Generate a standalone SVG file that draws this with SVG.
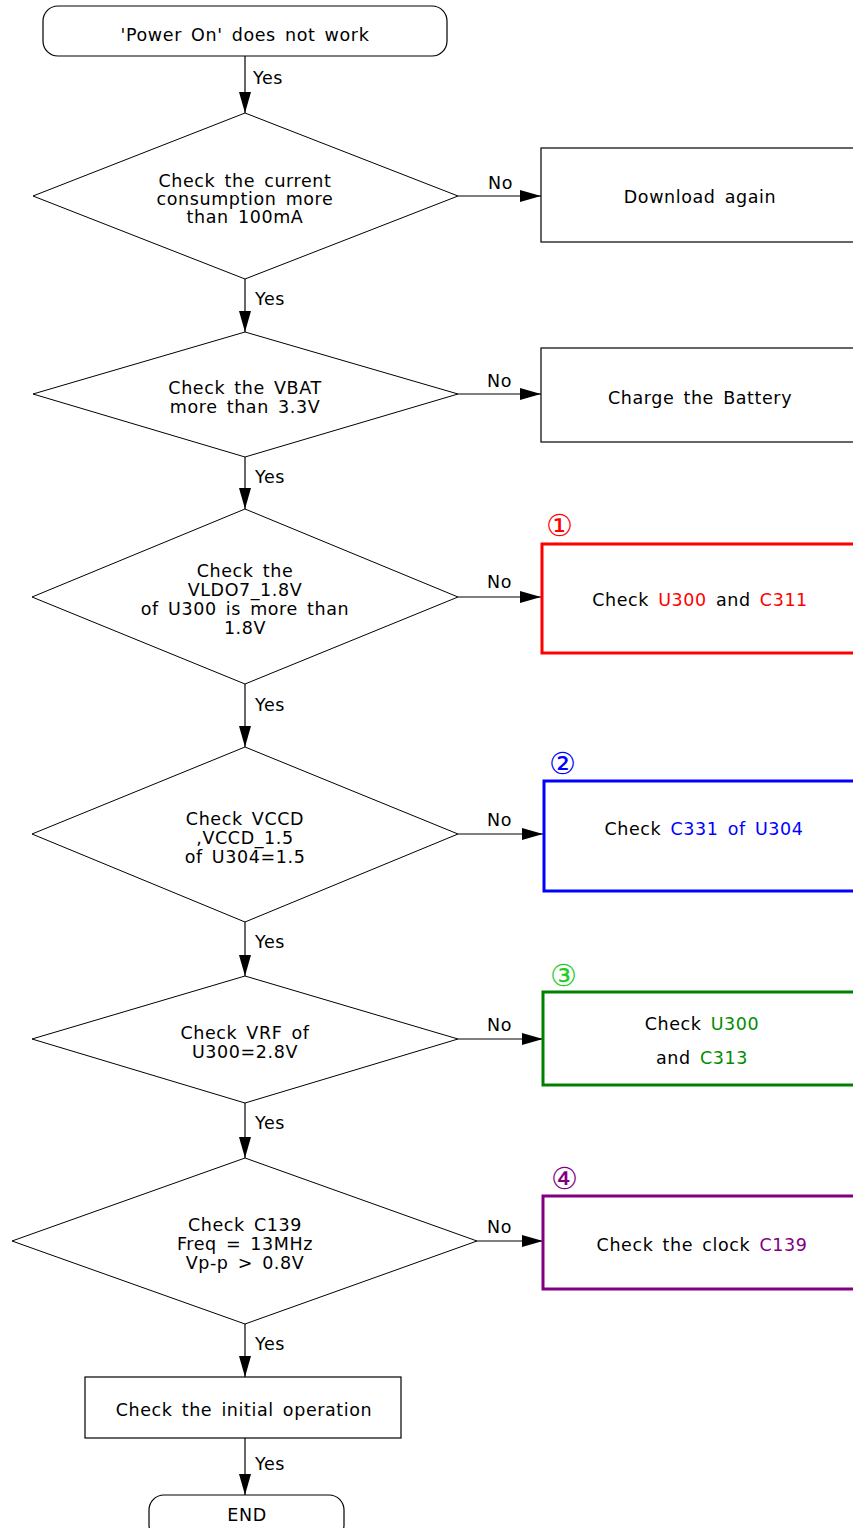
<svg xmlns="http://www.w3.org/2000/svg" width="853" height="1528" viewBox="0 0 853 1528">
<style>
text{font-family:"DejaVu Sans","Verdana",sans-serif;font-size:17.5px;fill:#000;text-anchor:middle;letter-spacing:0.6px;word-spacing:3px}
.lbl{text-anchor:start}
.shape{fill:#fff;stroke:#000;stroke-width:1}
.box{fill:#fff;stroke:#000;stroke-width:1.2}
.conn{stroke:#000;stroke-width:1.2;fill:none}
.num{font-size:30px;text-anchor:start;letter-spacing:0;font-family:"DejaVu Sans",sans-serif}
.r{fill:#ff0000}.b{fill:#0000ff}.g{fill:#008c00}.p{fill:#800080}
</style>
<defs>
<marker id="ah" markerUnits="userSpaceOnUse" markerWidth="22" markerHeight="14" refX="21" refY="6" orient="auto">
<path d="M0,0 L21,6 L0,12 z" fill="#000"/>
</marker>
</defs>
<g id="connectors">
<line class="conn" x1="245" y1="56" x2="245" y2="113" marker-end="url(#ah)"/>
<line class="conn" x1="458" y1="196" x2="541" y2="196" marker-end="url(#ah)"/>
<line class="conn" x1="245" y1="279" x2="245" y2="332" marker-end="url(#ah)"/>
<line class="conn" x1="458" y1="394" x2="541" y2="394" marker-end="url(#ah)"/>
<line class="conn" x1="245" y1="457" x2="245" y2="509" marker-end="url(#ah)"/>
<line class="conn" x1="458" y1="597" x2="541" y2="597" marker-end="url(#ah)"/>
<line class="conn" x1="245" y1="684" x2="245" y2="747" marker-end="url(#ah)"/>
<line class="conn" x1="458" y1="834" x2="543" y2="834" marker-end="url(#ah)"/>
<line class="conn" x1="245" y1="922" x2="245" y2="976" marker-end="url(#ah)"/>
<line class="conn" x1="458" y1="1039" x2="543" y2="1039" marker-end="url(#ah)"/>
<line class="conn" x1="245" y1="1103" x2="245" y2="1158" marker-end="url(#ah)"/>
<line class="conn" x1="477" y1="1241" x2="543" y2="1241" marker-end="url(#ah)"/>
<line class="conn" x1="245" y1="1324" x2="245" y2="1377" marker-end="url(#ah)"/>
<line class="conn" x1="245" y1="1438" x2="245" y2="1495" marker-end="url(#ah)"/>
<text class="lbl" x="253" y="84">Yes</text>
<text class="lbl" x="488" y="189">No</text>
<text class="lbl" x="255" y="305">Yes</text>
<text class="lbl" x="487" y="387">No</text>
<text class="lbl" x="255" y="483">Yes</text>
<text class="lbl" x="487" y="588">No</text>
<text class="lbl" x="255" y="711">Yes</text>
<text class="lbl" x="487" y="826">No</text>
<text class="lbl" x="255" y="948">Yes</text>
<text class="lbl" x="487" y="1031">No</text>
<text class="lbl" x="255" y="1129">Yes</text>
<text class="lbl" x="487" y="1233">No</text>
<text class="lbl" x="255" y="1350">Yes</text>
<text class="lbl" x="255" y="1470">Yes</text>
</g>
<g id="start">
<rect class="box" x="43" y="6" width="404" height="50" rx="15"/>
<text x="245" y="41">'Power On' does not work</text>
</g>
<g id="d1">
<polygon class="shape" points="245,113 458,196 245,279 33,196"/>
<text x="245" y="187">Check the current</text>
<text x="245" y="205">consumption more</text>
<text x="245" y="223">than 100mA</text>
</g>
<g id="n1">
<rect class="box" x="541" y="148" width="320" height="94"/>
<text x="700" y="203">Download again</text>
</g>
<g id="d2">
<polygon class="shape" points="245,332 458,394 245,457 33,394"/>
<text x="245" y="394">Check the VBAT</text>
<text x="245" y="413">more than 3.3V</text>
</g>
<g id="n2">
<rect class="box" x="541" y="348" width="320" height="94"/>
<text x="700" y="404">Charge the Battery</text>
</g>
<g id="d3">
<polygon class="shape" points="245,509 458,597 245,684 32,597"/>
<text x="245" y="577">Check the</text>
<text x="245" y="596">VLDO7_1.8V</text>
<text x="245" y="615">of U300 is more than</text>
<text x="245" y="634">1.8V</text>
</g>
<g id="n3">
<rect x="542" y="544" width="320" height="109" fill="#fff" stroke="#ff0000" stroke-width="3"/>
<text class="num r" x="546" y="536">①</text>
<text x="700" y="606">Check <tspan class="r">U300</tspan> and <tspan class="r">C311</tspan></text>
</g>
<g id="d4">
<polygon class="shape" points="245,747 458,834 245,922 32,834"/>
<text x="245" y="825">Check VCCD</text>
<text x="245" y="844">,VCCD_1.5</text>
<text x="245" y="863">of U304=1.5</text>
</g>
<g id="n4">
<rect x="544" y="781" width="320" height="110" fill="#fff" stroke="#0000ff" stroke-width="3"/>
<text class="num b" x="549" y="774">②</text>
<text x="704" y="835">Check <tspan class="b">C331 of U304</tspan></text>
</g>
<g id="d5">
<polygon class="shape" points="245,976 458,1039 245,1103 32,1039"/>
<text x="245" y="1039">Check VRF of</text>
<text x="245" y="1058">U300=2.8V</text>
</g>
<g id="n5">
<rect x="543" y="992" width="320" height="93" fill="#fff" stroke="#008000" stroke-width="3"/>
<text class="num" x="550" y="986" style="fill:#22cc22">③</text>
<text x="702" y="1030">Check <tspan class="g">U300</tspan></text>
<text x="702" y="1064">and <tspan class="g">C313</tspan></text>
</g>
<g id="d6">
<polygon class="shape" points="245,1158 477,1241 245,1324 12,1241"/>
<text x="245" y="1231">Check C139</text>
<text x="245" y="1250">Freq = 13MHz</text>
<text x="245" y="1269">Vp-p &gt; 0.8V</text>
</g>
<g id="n6">
<rect x="543" y="1196" width="320" height="93" fill="#fff" stroke="#800080" stroke-width="3"/>
<text class="num p" x="551" y="1189">④</text>
<text x="702" y="1251">Check the clock <tspan class="p">C139</tspan></text>
</g>
<g id="n7">
<rect class="box" x="85" y="1377" width="316" height="61"/>
<text x="244" y="1416">Check the initial operation</text>
</g>
<g id="end">
<rect class="box" x="149" y="1495" width="195" height="45" rx="15"/>
<text x="247" y="1521">END</text>
</g>
</svg>
